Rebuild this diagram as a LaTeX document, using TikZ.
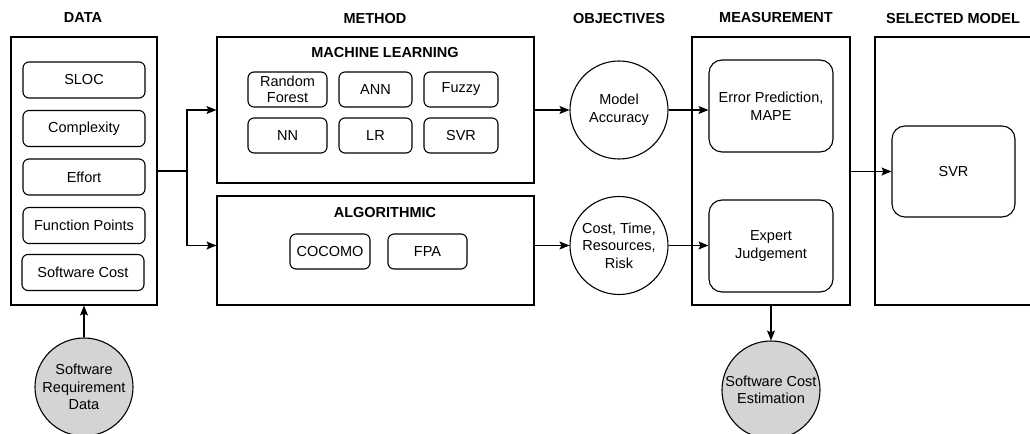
\documentclass[tikz,border=0pt]{standalone}
\usepackage{fontspec}
\setmainfont{Liberation Sans}
\usetikzlibrary{arrows.meta}
\begin{document}
\begin{tikzpicture}[x=1bp,y=-1bp,
  every node/.style={font=\fontsize{14.5bp}{17.5bp}\selectfont, inner sep=0pt},
  frame/.style={draw, line width=1.1bp, rectangle},
  item/.style={draw, line width=1.1bp, rectangle, rounded corners=6bp, align=center},
  bigitem/.style={draw, line width=1.1bp, rectangle, rounded corners=13bp, align=center},
  disc/.style={draw, line width=1.1bp, circle, minimum size=98bp, align=center},
  heading/.style={font=\fontsize{14.5bp}{17.5bp}\selectfont\bfseries},
  flow/.style={draw, line width=1.1bp, -{Stealth[length=10bp,width=8bp,inset=2bp]}}
]
\useasboundingbox (0,0) rectangle (1030,434);

% column headings
\node[heading] (hdata) at (83,18) {DATA};
\node[heading] (hmethod) at (375,19) {METHOD};
\node[heading] (hobj) at (619,19) {OBJECTIVES};
\node[heading] (hmeas) at (776,18) {MEASUREMENT};
\node[heading] (hsel) at (953,19) {SELECTED MODEL};

% data column
\node[frame, minimum width=146bp, minimum height=268bp] (data) at (84,171) {};
\node[item, minimum width=122bp, minimum height=36bp] (sloc) at (84,80) {SLOC};
\node[item, minimum width=122bp, minimum height=36bp] (cplx) at (84,128.5) {Complexity};
\node[item, minimum width=122bp, minimum height=36bp] (eff) at (84,177) {Effort};
\node[item, minimum width=122bp, minimum height=36bp] (fp) at (84,225.5) {Function Points};
\node[item, minimum width=122bp, minimum height=36bp] (cost) at (83,272.5) {Software Cost};
\node[disc, fill=black!17] (srd) at (84,387) {Software\\Requirement\\Data};

% method column
\node[frame, minimum width=317bp, minimum height=146bp] (ml) at (375.5,110) {};
\node[heading] (mlt) at (385,53) {MACHINE LEARNING};
\node[item, minimum width=79bp, minimum height=35bp] (rf) at (287.5,89.5) {Random\\[-2bp]Forest};
\node[item, minimum width=73bp, minimum height=35bp] (ann) at (375.5,89.5) {ANN};
\node[item, minimum width=74bp, minimum height=35bp] (fz) at (461,89.5) {Fuzzy};
\node[item, minimum width=79bp, minimum height=35bp] (nn) at (287.5,135.5) {NN};
\node[item, minimum width=73bp, minimum height=35bp] (lr) at (375.5,135.5) {LR};
\node[item, minimum width=74bp, minimum height=35bp] (svrm) at (461,135.5) {SVR};

\node[frame, minimum width=317bp, minimum height=109bp] (alg) at (375.5,250.5) {};
\node[heading] (algt) at (385,213) {ALGORITHMIC};
\node[item, minimum width=80bp, minimum height=35bp] (coc) at (330,251.5) {COCOMO};
\node[item, minimum width=79bp, minimum height=35bp] (fpa) at (427.5,251.5) {FPA};

% objectives
\node[disc] (acc) at (619,110) {Model\\Accuracy};
\node[disc] (ctr) at (619,245.5) {Cost, Time,\\Resources,\\Risk};

% measurement
\node[frame, minimum width=158bp, minimum height=268bp] (meas) at (771,171) {};
\node[bigitem, minimum width=124bp, minimum height=92bp] (err) at (771,106) {Error Prediction,\\MAPE};
\node[bigitem, minimum width=124bp, minimum height=92bp] (exp) at (771,246) {Expert\\Judgement};
\node[disc, fill=black!17] (sce) at (771,390) {Software Cost\\Estimation};

% selected model
\node[frame, minimum width=200bp, minimum height=268bp] (sel) at (975,171) {};
\node[bigitem, minimum width=123bp, minimum height=91bp] (svr) at (953.5,171.5) {SVR};

% connectors
\coordinate (split) at (187,171);
\draw[line width=1.1bp] (data.east |- split) -- (split);
\draw[flow] (split) |- (ml.west);
\draw[flow] (split) |- (ctr.west -| alg.west);
\draw[flow] (ml.east |- acc) -- (acc.west);
\draw[flow] (alg.east |- ctr) -- (ctr.west);
\draw[flow] (acc.east) -- (acc.east -| err.west);
\draw[flow] (ctr.east) -- (ctr.east -| exp.west);
\draw[flow] (meas.east |- svr) -- (svr.west);
\draw[flow] (meas.south) -- (sce.north);
\draw[flow] (srd.north) -- (data.south);
\end{tikzpicture}
\end{document}
